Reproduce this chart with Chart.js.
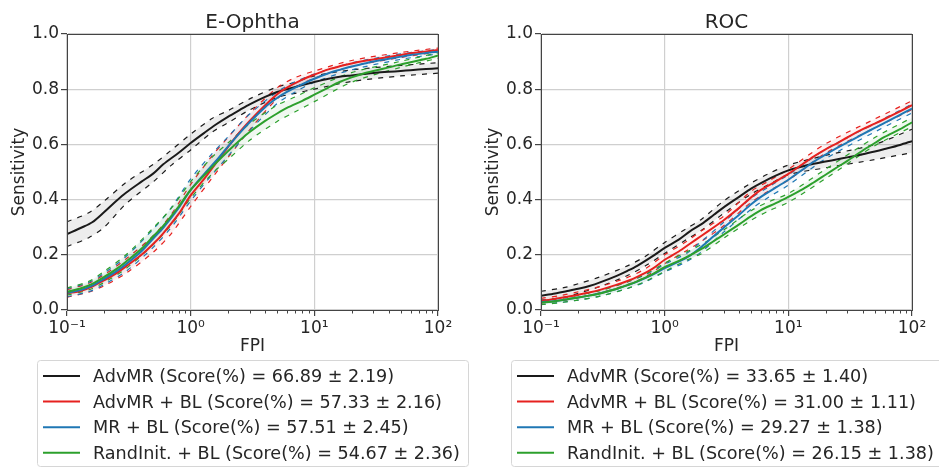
<!DOCTYPE html>
<html>
<head>
<meta charset="utf-8">
<script src="https://cdn.jsdelivr.net/npm/chart.js@4.4.1/dist/chart.umd.min.js"></script>
<style>
  body { margin: 0; background: #fff; width: 939px; height: 468px; overflow: hidden; position: relative; }
  canvas { position: absolute; top: 0; }
</style>
</head>
<body>
<canvas id="cht1" width="470" height="468" style="left:0px"></canvas>
<canvas id="cht2" width="470" height="468" style="left:474px"></canvas>
<script>
// ---- data ----
const fpi = [0.1, 0.13, 0.16, 0.2, 0.25, 0.3, 0.4, 0.5, 0.6, 0.8, 1, 1.3, 1.6, 2, 2.5, 3, 4, 5, 6, 8, 10, 13, 16, 20, 25, 30, 40, 50, 60, 80, 100]
const bandFpi = [0.1, 0.15, 0.2, 0.3, 0.5, 0.7, 1, 1.5, 2, 3, 5, 7, 10, 20, 50, 100]

const seriesNames = ["AdvMR", "AdvMR + BL", "MR + BL", "RandInit. + BL"]
const eoScores = ["66.89 ± 2.19", "57.33 ± 2.16", "57.51 ± 2.45", "54.67 ± 2.36"]
const rocScores = ["33.65 ± 1.40", "31.00 ± 1.11", "29.27 ± 1.38", "26.15 ± 1.38"]

const xTicks = [0.1, 1, 10, 100]
const xTickLabels = ["10⁻¹", "10⁰", "10¹", "10²"]
const yTicks = [0, 0.2, 0.4, 0.6, 0.8, 1.0]
const yTickLabels = ["0.0", "0.2", "0.4", "0.6", "0.8", "1.0"]

// E-Ophtha
const eoAdvMR   = [0.275, 0.298, 0.318, 0.355, 0.395, 0.425, 0.465, 0.495, 0.528, 0.57, 0.605, 0.643, 0.672, 0.70, 0.725, 0.745, 0.772, 0.79, 0.80, 0.815, 0.826, 0.838, 0.845, 0.85, 0.855, 0.859, 0.863, 0.866, 0.869, 0.873, 0.876]
const eoAdvMRBL = [0.06, 0.07, 0.085, 0.108, 0.133, 0.158, 0.2, 0.24, 0.278, 0.348, 0.415, 0.478, 0.532, 0.59, 0.645, 0.685, 0.742, 0.782, 0.806, 0.835, 0.853, 0.872, 0.883, 0.893, 0.902, 0.908, 0.917, 0.924, 0.93, 0.937, 0.942]
const eoMRBL    = [0.062, 0.073, 0.088, 0.113, 0.14, 0.166, 0.213, 0.26, 0.298, 0.37, 0.435, 0.495, 0.54, 0.592, 0.642, 0.68, 0.735, 0.768, 0.79, 0.818, 0.838, 0.858, 0.87, 0.882, 0.892, 0.9, 0.91, 0.918, 0.924, 0.931, 0.936]
const eoRandBL  = [0.066, 0.079, 0.095, 0.12, 0.148, 0.175, 0.222, 0.268, 0.305, 0.375, 0.435, 0.49, 0.532, 0.575, 0.615, 0.645, 0.685, 0.712, 0.732, 0.758, 0.78, 0.806, 0.826, 0.843, 0.857, 0.866, 0.879, 0.89, 0.898, 0.91, 0.922]

const eoAdvMRLow    = [0.23, 0.262, 0.30, 0.385, 0.465, 0.525, 0.58, 0.645, 0.678, 0.725, 0.77, 0.785, 0.80, 0.828, 0.848, 0.858]
const eoAdvMRHigh   = [0.32, 0.352, 0.395, 0.462, 0.528, 0.58, 0.637, 0.695, 0.722, 0.765, 0.808, 0.825, 0.848, 0.87, 0.886, 0.896]
const eoAdvMRBLLow  = [0.046, 0.065, 0.088, 0.133, 0.21, 0.278, 0.375, 0.48, 0.552, 0.653, 0.765, 0.808, 0.84, 0.882, 0.915, 0.935]
const eoAdvMRBLHigh = [0.074, 0.097, 0.128, 0.185, 0.27, 0.348, 0.455, 0.56, 0.625, 0.712, 0.805, 0.842, 0.866, 0.904, 0.933, 0.949]
const eoMRBLLow     = [0.048, 0.066, 0.093, 0.14, 0.228, 0.3, 0.395, 0.492, 0.557, 0.65, 0.748, 0.79, 0.825, 0.87, 0.908, 0.928]
const eoMRBLHigh    = [0.077, 0.1, 0.134, 0.194, 0.294, 0.372, 0.475, 0.568, 0.627, 0.71, 0.79, 0.827, 0.855, 0.895, 0.928, 0.944]
const eoRandBLLow   = [0.054, 0.073, 0.1, 0.15, 0.238, 0.31, 0.405, 0.495, 0.545, 0.615, 0.683, 0.718, 0.755, 0.825, 0.879, 0.912]
const eoRandBLHigh  = [0.08, 0.104, 0.14, 0.2, 0.298, 0.37, 0.465, 0.555, 0.605, 0.675, 0.742, 0.772, 0.805, 0.86, 0.901, 0.932]

// ROC
const rocAdvMR   = [0.052, 0.06, 0.068, 0.077, 0.088, 0.1, 0.122, 0.142, 0.16, 0.195, 0.225, 0.255, 0.285, 0.312, 0.345, 0.372, 0.41, 0.44, 0.46, 0.488, 0.506, 0.52, 0.53, 0.538, 0.546, 0.553, 0.564, 0.574, 0.583, 0.598, 0.612]
const rocAdvMRBL = [0.033, 0.04, 0.047, 0.055, 0.064, 0.073, 0.09, 0.105, 0.12, 0.15, 0.182, 0.212, 0.24, 0.27, 0.3, 0.325, 0.37, 0.408, 0.435, 0.467, 0.493, 0.528, 0.556, 0.582, 0.605, 0.625, 0.655, 0.675, 0.692, 0.72, 0.742]
const rocMRBL    = [0.028, 0.033, 0.038, 0.045, 0.053, 0.061, 0.075, 0.09, 0.103, 0.128, 0.152, 0.175, 0.197, 0.23, 0.268, 0.298, 0.345, 0.383, 0.41, 0.445, 0.472, 0.508, 0.537, 0.563, 0.588, 0.607, 0.637, 0.66, 0.678, 0.707, 0.73]
const rocRandBL  = [0.026, 0.032, 0.038, 0.045, 0.053, 0.06, 0.075, 0.09, 0.104, 0.13, 0.155, 0.178, 0.198, 0.222, 0.25, 0.273, 0.31, 0.34, 0.362, 0.388, 0.41, 0.437, 0.462, 0.49, 0.518, 0.54, 0.578, 0.605, 0.627, 0.655, 0.68]

const rocAdvMRLow    = [0.035, 0.045, 0.06, 0.085, 0.125, 0.16, 0.205, 0.255, 0.29, 0.35, 0.42, 0.455, 0.49, 0.515, 0.545, 0.57]
const rocAdvMRHigh   = [0.068, 0.08, 0.095, 0.12, 0.16, 0.195, 0.245, 0.295, 0.33, 0.395, 0.46, 0.495, 0.525, 0.56, 0.60, 0.655]
const rocAdvMRBLLow  = [0.025, 0.035, 0.045, 0.062, 0.092, 0.12, 0.168, 0.215, 0.25, 0.305, 0.39, 0.432, 0.47, 0.568, 0.66, 0.726]
const rocAdvMRBLHigh = [0.042, 0.054, 0.066, 0.085, 0.118, 0.15, 0.2, 0.248, 0.288, 0.34, 0.43, 0.468, 0.51, 0.602, 0.692, 0.758]
const rocMRBLLow     = [0.02, 0.028, 0.036, 0.05, 0.078, 0.102, 0.138, 0.175, 0.212, 0.282, 0.365, 0.41, 0.452, 0.548, 0.645, 0.714]
const rocMRBLHigh    = [0.036, 0.044, 0.054, 0.072, 0.102, 0.128, 0.166, 0.205, 0.25, 0.318, 0.405, 0.447, 0.49, 0.582, 0.676, 0.746]
const rocRandBLLow   = [0.019, 0.028, 0.036, 0.05, 0.078, 0.104, 0.14, 0.18, 0.205, 0.26, 0.325, 0.36, 0.39, 0.476, 0.595, 0.664]
const rocRandBLHigh  = [0.034, 0.044, 0.054, 0.07, 0.102, 0.13, 0.17, 0.21, 0.238, 0.29, 0.36, 0.393, 0.422, 0.51, 0.625, 0.697]

// ---- styling ----
const lineColors = ["#1a1a1a", "#e6211f", "#1f77b4", "#2ca02c"]
const bandColors = ["rgba(0,0,0,0.07)", "rgba(230,33,31,0.06)", "rgba(31,119,180,0.06)", "rgba(44,160,44,0.07)"]
const drawOrder = [3, 2, 1, 0]   // black underneath, green on top
const textColor = "#262626"

Chart.defaults.font.family = "'DejaVu Sans', sans-serif"
Chart.defaults.color = textColor

function pts(xs, ys){
    return xs.map((x, i) => ({x: x, y: ys[i]}))
}

function makeSets(means, lows, highs, scores){
    const sets = []
    for (let i = 0; i < 4; i++){
        sets.push({label: "", data: pts(bandFpi, lows[i]), borderColor: lineColors[i],
            borderWidth: 1.2, borderDash: [5, 6], fill: false, tension: 0.3, order: 10 + drawOrder[i]})
        sets.push({label: "", data: pts(bandFpi, highs[i]), borderColor: lineColors[i],
            borderWidth: 1.2, borderDash: [5, 6], fill: "-1", backgroundColor: bandColors[i],
            tension: 0.3, order: 10 + drawOrder[i]})
        sets.push({label: seriesNames[i] + " (Score(%) = " + scores[i] + ")",
            data: pts(fpi, means[i]), borderColor: lineColors[i], borderWidth: 2,
            fill: false, tension: 0.3, order: drawOrder[i]})
    }
    return sets
}

// title centred over the plot area
const panelTitle = {
    id: "panelTitle",
    afterDraw(chart, args, opts){
        const ctx = chart.ctx, a = chart.chartArea
        ctx.save()
        ctx.font = "20px 'DejaVu Sans'"
        ctx.fillStyle = textColor
        ctx.textAlign = "center"
        ctx.textBaseline = "alphabetic"
        ctx.fillText(opts.text, (a.left + a.right) / 2, 28)
        ctx.restore()
    }
}

// frame on all four sides + minor log ticks
const frame = {
    id: "frame",
    afterDatasetsDraw(chart){
        const ctx = chart.ctx, a = chart.chartArea
        const xs = chart.scales.x
        ctx.save()
        ctx.strokeStyle = "#444"
        ctx.lineWidth = 1
        ctx.strokeRect(Math.round(a.left) + 0.5, Math.round(a.top) + 0.5,
                       Math.round(a.right - a.left), Math.round(a.bottom - a.top))
        ctx.beginPath()
        for (let d of [0.1, 1, 10]){
            for (let k = 2; k <= 9; k++){
                const px = Math.round(xs.getPixelForValue(d * k)) + 0.5
                ctx.moveTo(px, a.bottom)
                ctx.lineTo(px, a.bottom + 3.5)
            }
        }
        ctx.stroke()
        ctx.restore()
    }
}

// boxed legend below the plot
const boxLegend = {
    id: "boxLegend",
    afterDraw(chart, args, opts){
        const ctx = chart.ctx
        const items = chart.data.datasets.filter(d => d.label)
        ctx.save()
        ctx.beginPath()
        ctx.roundRect(opts.x + 0.5, opts.y + 0.5, opts.w, opts.h, 3)
        ctx.fillStyle = "rgba(255,255,255,0.8)"
        ctx.fill()
        ctx.strokeStyle = "#d6d6d6"
        ctx.lineWidth = 1
        ctx.stroke()
        ctx.font = "17.6px 'DejaVu Sans'"
        ctx.textBaseline = "alphabetic"
        items.forEach((d, i) => {
            const base = opts.y + 22 + i * 25.6
            ctx.strokeStyle = d.borderColor
            ctx.lineWidth = 2
            ctx.beginPath()
            ctx.moveTo(opts.x + 6, base - 6)
            ctx.lineTo(opts.x + 43, base - 6)
            ctx.stroke()
            ctx.fillStyle = textColor
            ctx.fillText(d.label, opts.x + 56, base)
        })
        ctx.restore()
    }
}

function makeChart(id, title, sets){
    return new Chart(id, {
        type: "line",
        data: { datasets: sets },
        plugins: [panelTitle, frame, boxLegend],
        options: {
            responsive: false,
            animation: false,
            layout: { padding: { top: 34, right: 32, bottom: 108, left: 0 } },
            elements: { point: { radius: 0 } },
            scales: {
                x: {
                    type: "logarithmic",
                    min: 0.1,
                    max: 100,
                    afterBuildTicks: s => { s.ticks = xTicks.map(v => ({value: v})) },
                    afterFit: s => { s.height = 50 },
                    ticks: {
                        autoSkip: false, maxRotation: 0, padding: 2,
                        font: { size: 17 }, color: textColor,
                        callback: (v, i) => xTickLabels[i]
                    },
                    grid: { color: "#cfcfcf", lineWidth: 1.2, tickLength: 6, tickColor: "#444" },
                    border: { display: true, color: "#444", width: 1 },
                    title: { display: true, text: "FPI", font: { size: 17 }, color: textColor,
                             padding: { top: 0, bottom: 3 } }
                },
                y: {
                    min: 0,
                    max: 1,
                    afterBuildTicks: s => { s.ticks = yTicks.map(v => ({value: v})) },
                    afterFit: s => { s.width = 67 },
                    ticks: {
                        padding: 2, font: { size: 17 }, color: textColor,
                        callback: (v, i) => yTickLabels[i]
                    },
                    grid: { color: "#cfcfcf", lineWidth: 1.2, tickLength: 6, tickColor: "#444" },
                    border: { display: true, color: "#444", width: 1 },
                    title: { display: true, text: "Sensitivity", font: { size: 17 }, color: textColor,
                             padding: { top: 9, bottom: 0 } }
                }
            },
            plugins: {
                legend: { display: false },
                tooltip: { enabled: false },
                panelTitle: { text: title },
                boxLegend: { x: 37, y: 360, w: 431, h: 106 }
            }
        }
    })
}

makeChart("cht1", "E-Ophtha",
    makeSets([eoAdvMR, eoAdvMRBL, eoMRBL, eoRandBL],
             [eoAdvMRLow, eoAdvMRBLLow, eoMRBLLow, eoRandBLLow],
             [eoAdvMRHigh, eoAdvMRBLHigh, eoMRBLHigh, eoRandBLHigh], eoScores))

makeChart("cht2", "ROC",
    makeSets([rocAdvMR, rocAdvMRBL, rocMRBL, rocRandBL],
             [rocAdvMRLow, rocAdvMRBLLow, rocMRBLLow, rocRandBLLow],
             [rocAdvMRHigh, rocAdvMRBLHigh, rocMRBLHigh, rocRandBLHigh], rocScores))
</script>
</body>
</html>
